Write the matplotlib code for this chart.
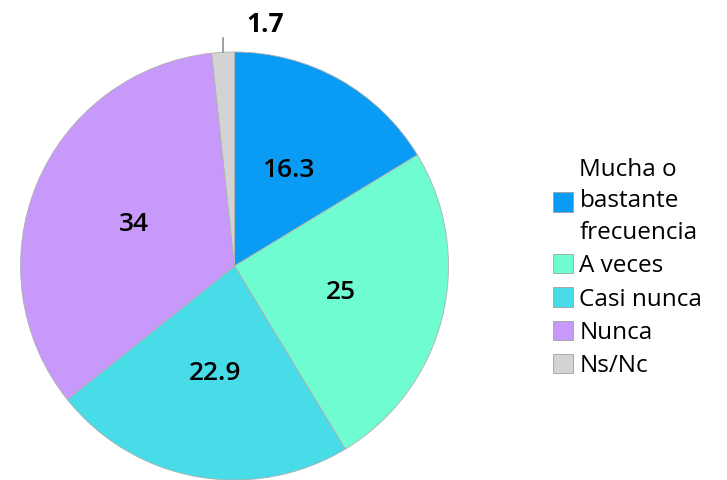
import matplotlib
matplotlib.use("Agg")
import matplotlib.pyplot as plt
import numpy as np

categories = ["Mucha o\nbastante\nfrecuencia", "A veces", "Casi nunca", "Nunca", "Ns/Nc"]
values = [16.3, 25, 22.9, 34, 1.7]
labels = ["16.3", "25", "22.9", "34", "1.7"]
colors = ["#0a9bf5", "#6ffcd0", "#48dbe8", "#c799fb", "#d3d3d3"]

plt.rcParams['font.family'] = ['Open Sans', 'DejaVu Sans']

W, H = 727, 480
fig = plt.figure(figsize=(W/100, H/100), dpi=100)
cx, cy, R = 234.5, 266, 214
ax = fig.add_axes([(cx-R)/W, (H-cy-R)/H, 2*R/W, 2*R/H])
wedges, _ = ax.pie(values, colors=colors, startangle=90, counterclock=False,
                   wedgeprops=dict(edgecolor="#b0b0b0", linewidth=0.6), radius=1)
ax.set_xlim(-1, 1); ax.set_ylim(-1, 1); ax.set_aspect('equal')
ax.axis('off')

total = sum(values)
start = 90
for i, (v, lab) in enumerate(zip(values, labels)):
    mid = start - v/total*360/2
    start -= v/total*360
    a = np.deg2rad(mid)
    if i == 4:
        x0, y0 = np.cos(a), np.sin(a)
        ax.plot([x0, x0], [y0, y0+0.065], color="#909090", lw=1.2, clip_on=False)
        ax.text(0.143, 1.13, lab, ha='center', va='center', fontsize=19,
                fontweight='bold', clip_on=False)
    else:
        r = 0.51
        ax.text(r*np.cos(a), r*np.sin(a), lab, ha='center', va='center',
                fontsize=19, fontweight='semibold')

handles = [plt.Rectangle((0, 0), 1, 1, facecolor=c, edgecolor="#a0a0a0", linewidth=0.6) for c in colors]
leg = fig.legend(handles, categories, loc='upper left',
                 bbox_to_anchor=(543/W, 1-148/H), frameon=False,
                 prop={'size': 17.5, 'weight': 'medium'},
                 handlelength=0.85, handleheight=0.85, handletextpad=0.25,
                 labelspacing=0.38, borderaxespad=0)
for t in leg.get_texts():
    t.set_linespacing(1.42)
fig.savefig("out.png", dpi=100)
